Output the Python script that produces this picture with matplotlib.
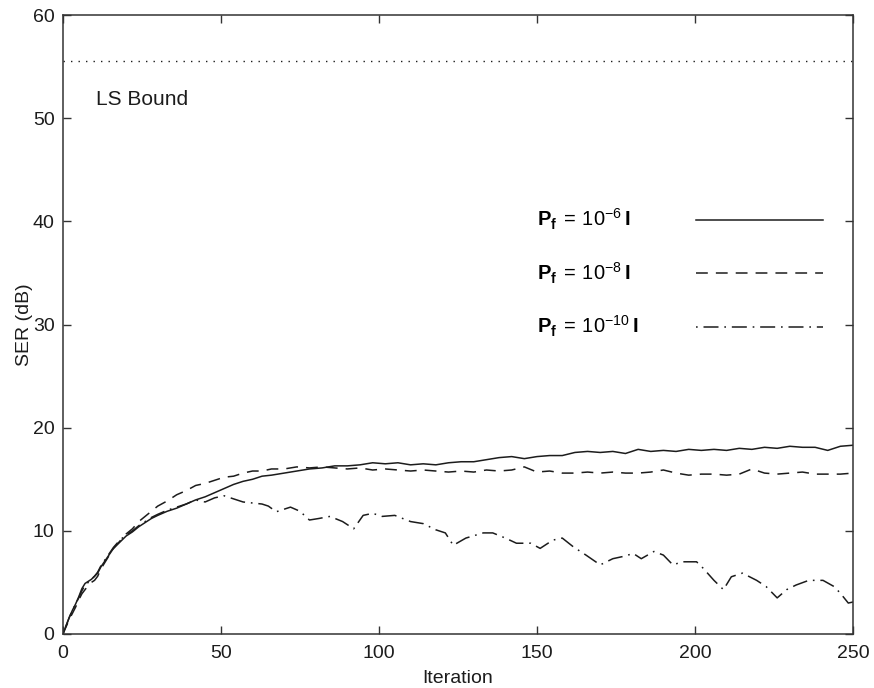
import matplotlib
matplotlib.use('Agg')
import matplotlib.pyplot as plt

# values
it_a = [0, 1, 2, 3, 4, 5, 6, 7, 8, 9, 10, 11, 12, 14, 16, 18, 20, 22, 24, 26, 28, 30,
        33, 36, 39, 42, 45, 48, 51, 54, 57, 60, 63, 66, 70, 74, 78, 82, 86, 90, 94, 98,
        102, 106, 110, 114, 118, 122, 126, 130, 134, 138, 142, 146, 150, 154, 158, 162,
        166, 170, 174, 178, 182, 186, 190, 194, 198, 202, 206, 210, 214, 218, 222, 226,
        230, 234, 238, 242, 246, 250]
ser_6 = [0, 0.8, 1.6, 2.3, 2.9, 3.6, 4.4, 4.9, 5.1, 5.3, 5.6, 5.9, 6.5, 7.4, 8.3, 8.9,
         9.5, 9.9, 10.4, 10.8, 11.2, 11.5, 11.9, 12.2, 12.6, 13.0, 13.3, 13.7, 14.1, 14.5,
         14.8, 15.0, 15.3, 15.4, 15.6, 15.8, 16.0, 16.1, 16.3, 16.3, 16.4, 16.6, 16.5,
         16.6, 16.4, 16.5, 16.4, 16.6, 16.7, 16.7, 16.9, 17.1, 17.2, 17.0, 17.2, 17.3,
         17.3, 17.6, 17.7, 17.6, 17.7, 17.5, 17.9, 17.7, 17.8, 17.7, 17.9, 17.8, 17.9,
         17.8, 18.0, 17.9, 18.1, 18.0, 18.2, 18.1, 18.1, 17.8, 18.2, 18.3]
ser_8 = [0, 0.7, 1.4, 2.0, 2.6, 3.3, 3.9, 4.3, 4.7, 5.0, 5.2, 5.6, 6.3, 7.3, 8.3, 9.0,
         9.7, 10.2, 10.9, 11.4, 11.9, 12.4, 12.9, 13.5, 13.9, 14.4, 14.6, 14.9, 15.2,
         15.3, 15.6, 15.8, 15.8, 16.0, 16.0, 16.2, 16.1, 16.2, 16.1, 16.0, 16.1, 15.9,
         16.0, 15.9, 15.8, 15.9, 15.8, 15.7, 15.8, 15.7, 15.9, 15.8, 15.9, 16.2, 15.7,
         15.8, 15.6, 15.6, 15.7, 15.6, 15.7, 15.6, 15.6, 15.7, 15.9, 15.6, 15.4, 15.5,
         15.5, 15.4, 15.5, 16.0, 15.6, 15.5, 15.6, 15.7, 15.5, 15.5, 15.5, 15.6]

it_c = [0, 1, 2, 3, 4, 5, 6, 7, 8, 9, 10, 11, 12, 14, 16, 18, 20, 22, 24, 26, 28, 30,
        33, 36, 39, 42, 45, 48, 51, 54, 57, 60, 63, 65, 67.5, 70, 72, 75, 78, 81, 84.5,
        88.5, 92, 95, 98, 101, 105, 110, 114, 118, 121, 123.5, 127.5, 133, 136, 140,
        143.5, 148, 151, 155, 158, 161.5, 165.5, 170, 174, 177, 180.5, 183, 187, 190,
        193, 196, 200.5, 202.5, 206, 209, 211.5, 215, 219.5, 222.5, 226, 229, 232, 236,
        240.5, 244, 246, 248.5, 250]
ser_10 = [0, 0.8, 1.6, 2.3, 2.9, 3.5, 4.2, 4.7, 5.0, 5.3, 5.6, 6.0, 6.6, 7.5, 8.4, 9.1,
          9.6, 10.0, 10.5, 10.9, 11.3, 11.6, 12.0, 12.3, 12.6, 13.0, 12.8, 13.2, 13.4,
          13.1, 12.8, 12.7, 12.6, 12.4, 11.85, 12.1, 12.3, 11.9, 11.05, 11.2, 11.4, 10.9,
          10.2, 11.5, 11.7, 11.4, 11.5, 10.9, 10.7, 10.1, 9.8, 8.6, 9.3, 9.8, 9.8, 9.3,
          8.8, 8.8, 8.3, 9.1, 9.3, 8.45, 7.65, 6.7, 7.3, 7.5, 7.8, 7.3, 8.0, 7.65, 6.7,
          7.0, 7.0, 6.4, 5.2, 4.3, 5.55, 5.9, 5.2, 4.6, 3.5, 4.3, 4.75, 5.2, 5.2, 4.6,
          3.95, 3.0, 3.1]

ls_bound = 55.6
labels = [r'$\mathbf{P}_{\mathbf{f}}\,=\,10^{-6}\,\mathbf{I}$',
          r'$\mathbf{P}_{\mathbf{f}}\,=\,10^{-8}\,\mathbf{I}$',
          r'$\mathbf{P}_{\mathbf{f}}\,=\,10^{-10}\,\mathbf{I}$']

plt.rcParams['font.family'] = ['Liberation Sans', 'DejaVu Sans']
plt.rcParams['mathtext.fontset'] = 'custom'
plt.rcParams['mathtext.rm'] = 'Liberation Sans'
plt.rcParams['mathtext.bf'] = 'Liberation Sans:bold'
plt.rcParams['lines.scale_dashes'] = False
plt.rcParams['font.size'] = 14

ink = '#1c1c1c'
fig = plt.figure(figsize=(8.74, 6.88), dpi=100)
ax = fig.add_axes([0.072, 0.0785, 0.904, 0.8995])

ax.plot(it_a, ser_6, color=ink, lw=1.1, label=labels[0])
ax.plot(it_a, ser_8, color=ink, lw=1.1, dashes=(8.5, 5.8), label=labels[1])
ax.plot(it_c, ser_10, color=ink, lw=1.1, dashes=(1.2, 4.2, 10.8, 4.2), label=labels[2])
ax.axhline(ls_bound, color=ink, lw=1.0, dashes=(1.0, 4.4))
ax.text(10.4, 51.8, 'LS Bound', va='center', ha='left', fontsize=15, color=ink)

ax.set_xlim(0, 250)
ax.set_ylim(0, 60)
ax.set_xticks(range(0, 251, 50))
ax.set_yticks(range(0, 61, 10))
ax.tick_params(direction='in', length=6, width=1.0, top=True, right=True,
               colors='#333333', labelcolor=ink, pad=6, labelsize=14)
ax.tick_params(axis='x', pad=8)
for s in ax.spines.values():
    s.set_color('#333333')
    s.set_linewidth(1.1)
ax.set_xlabel('Iteration', fontsize=14, labelpad=6, color=ink)
ax.set_ylabel('SER (dB)', fontsize=14, labelpad=0, color=ink)

leg = ax.legend(loc='center left', bbox_to_anchor=(0.6, 0.583), frameon=False,
                markerfirst=False, handlelength=6.3, handletextpad=2.85,
                labelspacing=1.4, borderpad=0, borderaxespad=0, fontsize=14.5)

# give every legend row the same width: texts flush left, keys flush right
fig.canvas.draw()
renderer = fig.canvas.get_renderer()
rows = leg._legend_handle_box.get_children()[0].get_children()
full = max(r.get_bbox(renderer).width for r in rows)
for r in rows:
    r.mode = 'expand'
    r.width = full

fig.savefig('out.png', dpi=100, facecolor='white')
